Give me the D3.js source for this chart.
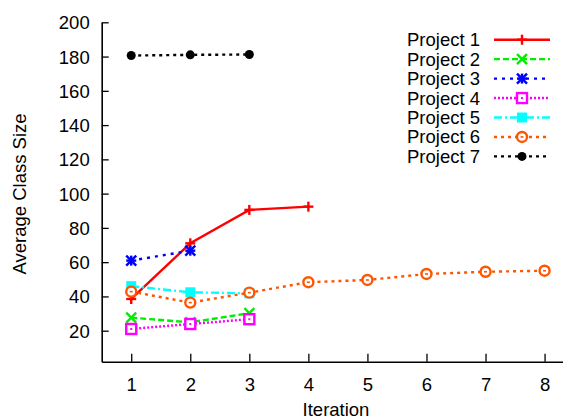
<!DOCTYPE html>
<html><head><meta charset="utf-8">
<script src="https://cdn.jsdelivr.net/npm/d3@7"></script>
<style>
html,body{margin:0;padding:0;background:#fff;}
svg{display:block;font-family:"Liberation Sans",Arial,Helvetica,sans-serif;}
</style>
</head><body>
<svg id="chart" width="563" height="419"></svg>
<script>
const iterations = [1, 2, 3, 4, 5, 6, 7, 8];
const seriesNames = ["Project 1", "Project 2", "Project 3", "Project 4", "Project 5", "Project 6", "Project 7"];
const project1 = [38.5, 71, 90.5, 92.4];
const project2 = [27.6, 24.9, 30.2];
const project3 = [60.9, 66.7];
const project4 = [21, 23.9, 26.7];
const project5 = [46, 42.4, 41.8];
const project6 = [42.8, 36.4, 42.2, 48.3, 49.6, 53.1, 54.4, 55];
const project7 = [180.6, 181, 181.2];
const yTicks = [20, 40, 60, 80, 100, 120, 140, 160, 180, 200];

const seriesValues = [project1, project2, project3, project4, project5, project6, project7];
const colors = ["#ff0000", "#00ee00", "#0000ff", "#ff00ff", "#00ffff", "#ff5500", "#000000"];
const dashes = [null, "6,3", "3,5", "2,2", "8,3,2,3", "3,4", "3,4"];
const markers = ["plus", "cross", "star", "boxdot", "boxfill", "circledot", "dotfill"];

const svg = d3.select("#chart");
const x = d3.scaleLinear().domain([0.5, 8.5]).range([101.7, 574.1]);
const y = d3.scaleLinear().domain([1.9, 200]).range([361.7, 22.3]);

const FS = "18.5px";
// axes
const yAxis = d3.axisLeft(y).tickValues(yTicks).tickSizeInner(-7).tickSizeOuter(0).tickPadding(12);
const xAxis = d3.axisBottom(x).tickValues(iterations).tickSizeInner(-8).tickSizeOuter(0).tickPadding(16);
const gy = svg.append("g").attr("transform", `translate(${x.range()[0]},0)`).call(yAxis);
const gx = svg.append("g").attr("transform", `translate(0,${y.range()[0]})`).call(xAxis);
[gx, gy].forEach(g => {
  g.selectAll("path.domain").attr("stroke", "#000").attr("stroke-width", 1.6);
  g.selectAll(".tick line").attr("stroke", "#000").attr("stroke-width", 1.3);
  g.selectAll(".tick text").attr("fill", "#000").style("font-size", FS).style("font-family", "Liberation Sans, Arial, sans-serif");
});
gy.selectAll(".tick text").attr("dy", "0.35em");

svg.append("text").attr("x", 336).attr("y", 416).attr("text-anchor", "middle")
  .style("font-size", FS).text("Iteration");
svg.append("text").attr("transform", "translate(26,194) rotate(-90)").attr("text-anchor", "middle")
  .style("font-size", FS).text("Average Class Size");

function drawMarker(g, type, cx, cy, color) {
  const s = 5;
  const sw = 2.4;
  const line = (x1, y1, x2, y2) => g.append("line").attr("x1", x1).attr("y1", y1).attr("x2", x2).attr("y2", y2)
    .attr("stroke", color).attr("stroke-width", sw);
  if (type === "plus") { line(cx - s, cy, cx + s, cy); line(cx, cy - s, cx, cy + s); }
  else if (type === "cross") { line(cx - s, cy - s, cx + s, cy + s); line(cx - s, cy + s, cx + s, cy - s); }
  else if (type === "star") {
    line(cx - s, cy, cx + s, cy); line(cx, cy - s, cx, cy + s);
    line(cx - s, cy - s, cx + s, cy + s); line(cx - s, cy + s, cx + s, cy - s);
  }
  else if (type === "boxdot") {
    g.append("rect").attr("x", cx - s).attr("y", cy - s).attr("width", 2 * s).attr("height", 2 * s)
      .attr("fill", "#fff").attr("stroke", color).attr("stroke-width", sw);
    g.append("rect").attr("x", cx - 1).attr("y", cy - 1).attr("width", 2).attr("height", 2).attr("fill", color);
  }
  else if (type === "boxfill") {
    g.append("rect").attr("x", cx - s).attr("y", cy - s).attr("width", 2 * s).attr("height", 2 * s).attr("fill", color);
  }
  else if (type === "circledot") {
    g.append("circle").attr("cx", cx).attr("cy", cy).attr("r", s).attr("fill", "#fff")
      .attr("stroke", color).attr("stroke-width", sw);
    g.append("rect").attr("x", cx - 1.5).attr("y", cy - 0.8).attr("width", 3).attr("height", 1.6).attr("fill", color);
  }
  else if (type === "dotfill") {
    g.append("circle").attr("cx", cx).attr("cy", cy).attr("r", 4.5).attr("fill", color);
  }
}

const lineGen = d3.line().x((d, i) => x(iterations[i])).y(d => y(d));
const plot = svg.append("g");
seriesValues.forEach((vals, k) => {
  const g = plot.append("g");
  g.append("path").attr("d", lineGen(vals)).attr("fill", "none").attr("stroke", colors[k])
    .attr("stroke-width", 2.4).attr("stroke-dasharray", dashes[k]);
  vals.forEach((v, i) => drawMarker(g, markers[k], x(iterations[i]), y(v), colors[k]));
});

// legend
const leg = svg.append("g");
seriesNames.forEach((name, k) => {
  const ly = 39.7 + k * 19.45;
  leg.append("text").attr("x", 480).attr("y", ly).attr("dy", "0.35em").attr("text-anchor", "end")
    .style("font-size", FS).text(name);
  leg.append("line").attr("x1", 494).attr("x2", 550).attr("y1", ly).attr("y2", ly)
    .attr("stroke", colors[k]).attr("stroke-width", 2.4).attr("stroke-dasharray", dashes[k]);
  drawMarker(leg, markers[k], 522, ly, colors[k]);
});
</script>
</body></html>
